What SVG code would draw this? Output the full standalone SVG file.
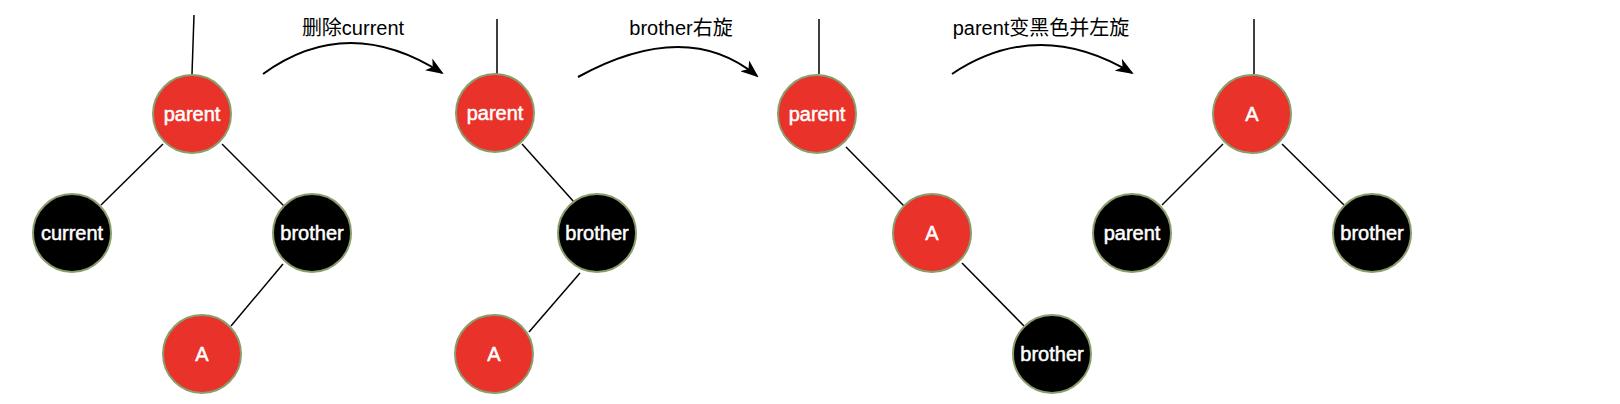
<svg xmlns="http://www.w3.org/2000/svg" width="1620" height="404" viewBox="0 0 1620 404">
<style>
.red{fill:#e8322a;stroke:#8a9e6c;stroke-width:2}
.blk{fill:#000;stroke:#8a9e6c;stroke-width:2}
.nt{font-family:"Liberation Sans",Arial,sans-serif;font-size:20px;fill:#fff;stroke:#fff;stroke-width:0.5;text-anchor:middle}
.lbl{font-family:"Liberation Sans","Noto Sans CJK SC",sans-serif;font-size:20px;fill:#000;text-anchor:middle}
.e{stroke:#000;stroke-width:1.5;fill:none}
.arc{stroke:#000;stroke-width:2;fill:none;marker-end:url(#ah)}
</style>
<defs>
<marker id="ah" viewBox="0 0 18 14" refX="16" refY="7" markerWidth="18" markerHeight="14" markerUnits="userSpaceOnUse" orient="auto">
<path d="M0,0 L18,7 L0,14 L5,7 Z" fill="#000"/>
</marker>
</defs>
<rect width="1620" height="404" fill="#fff"/>
<g id="connectors">
<line class="e" x1="194" y1="15" x2="192" y2="74"/>
<line class="e" x1="163" y1="144" x2="101" y2="205"/>
<line class="e" x1="222" y1="144" x2="284" y2="206"/>
<line class="e" x1="283" y1="264" x2="231" y2="326"/>
<line class="e" x1="497" y1="19" x2="497" y2="74"/>
<line class="e" x1="522" y1="144" x2="574" y2="202"/>
<line class="e" x1="580" y1="273" x2="529" y2="332"/>
<line class="e" x1="819" y1="19" x2="819" y2="74"/>
<line class="e" x1="846" y1="147" x2="904" y2="206"/>
<line class="e" x1="962" y1="263" x2="1024" y2="326"/>
<line class="e" x1="1254" y1="19" x2="1254" y2="74"/>
<line class="e" x1="1223" y1="144" x2="1162" y2="205"/>
<line class="e" x1="1282" y1="144" x2="1344" y2="205"/>
<path class="arc" d="M263,74 Q347.5,12.5 442,73"/>
<path class="arc" d="M578,77 Q686.5,17.5 757,76"/>
<path class="arc" d="M952,74 Q1038,16.5 1132,73"/>
</g>
<g id="label1"><text class="lbl" x="353" y="35">删除current</text></g>
<g id="label2"><text class="lbl" x="681" y="35">brother右旋</text></g>
<g id="label3"><text class="lbl" x="1041" y="35">parent变黑色并左旋</text></g>
<g id="t1-parent"><circle class="red" cx="192" cy="114" r="39"/><text class="nt" x="192" y="121">parent</text></g>
<g id="t1-current"><circle class="blk" cx="72" cy="233" r="39"/><text class="nt" x="72" y="240">current</text></g>
<g id="t1-brother"><circle class="blk" cx="312" cy="233" r="39"/><text class="nt" x="312" y="240">brother</text></g>
<g id="t1-A"><circle class="red" cx="202" cy="354" r="39"/><text class="nt" x="202" y="361">A</text></g>
<g id="t2-parent"><circle class="red" cx="495" cy="113" r="39"/><text class="nt" x="495" y="120">parent</text></g>
<g id="t2-brother"><circle class="blk" cx="597" cy="233" r="39"/><text class="nt" x="597" y="240">brother</text></g>
<g id="t2-A"><circle class="red" cx="494" cy="354" r="39"/><text class="nt" x="494" y="361">A</text></g>
<g id="t3-parent"><circle class="red" cx="817" cy="114" r="39"/><text class="nt" x="817" y="121">parent</text></g>
<g id="t3-A"><circle class="red" cx="932" cy="233" r="39"/><text class="nt" x="932" y="240">A</text></g>
<g id="t3-brother"><circle class="blk" cx="1052" cy="354" r="39"/><text class="nt" x="1052" y="361">brother</text></g>
<g id="t4-A"><circle class="red" cx="1252" cy="114" r="39"/><text class="nt" x="1252" y="121">A</text></g>
<g id="t4-parent"><circle class="blk" cx="1132" cy="233" r="39"/><text class="nt" x="1132" y="240">parent</text></g>
<g id="t4-brother"><circle class="blk" cx="1372" cy="233" r="39"/><text class="nt" x="1372" y="240">brother</text></g>
</svg>
